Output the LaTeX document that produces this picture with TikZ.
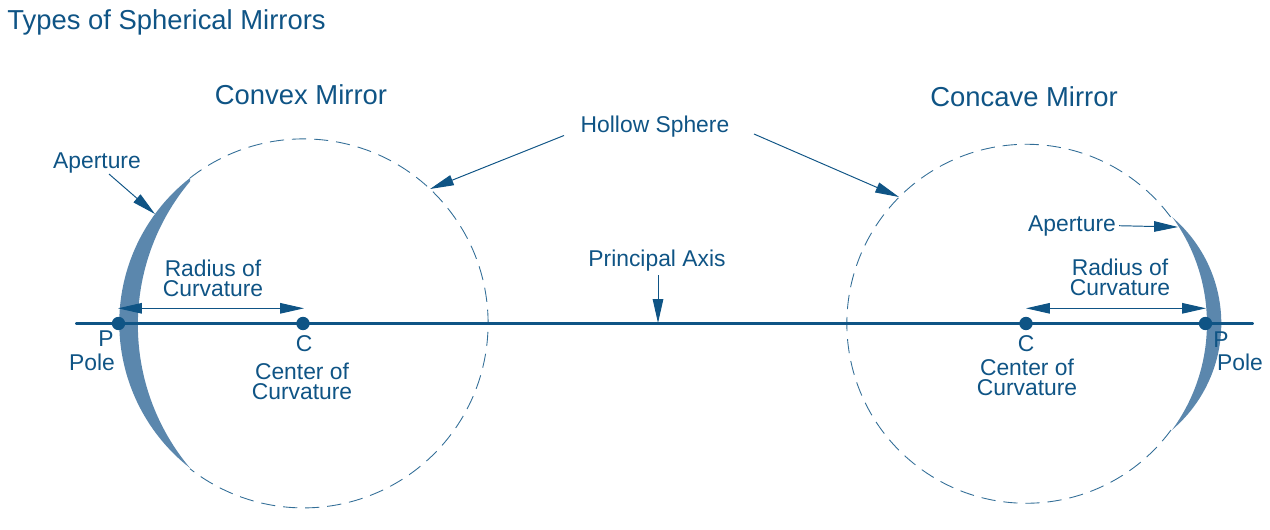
\documentclass[tikz,border=0pt]{standalone}
\usepackage{fontspec}
\setmainfont{Liberation Sans}
\usetikzlibrary{arrows.meta}
\definecolor{ink}{HTML}{0F5485}
\definecolor{mirror}{HTML}{5B87AD}
\tikzset{
  lbl/.style={text=ink,inner sep=0pt,align=center,font=\fontsize{13}{11.4}\selectfont},
  big/.style={text=ink,inner sep=0pt,font=\fontsize{15.6}{16}\selectfont},
  sphere/.style={draw=ink!85,line width=0.5pt,dash pattern=on 8.1pt off 4.5pt},
  pointer/.style={draw=ink,line width=0.55pt,-{Triangle[length=13.6pt,width=6pt,fill=ink]}},
  twoway/.style={draw=ink,line width=0.55pt,{Triangle[length=13.6pt,width=6pt,fill=ink]}-{Triangle[length=13.6pt,width=6pt,fill=ink]}},
  axisline/.style={draw=ink,line width=2.2pt,line cap=round},
  dot/.style={circle,fill=ink,inner sep=0pt,minimum size=7.6pt}
}
\begin{document}
\begin{tikzpicture}[x=0.02cm,y=-0.02cm]
\useasboundingbox (0,0) rectangle (1270,529);
% hollow spheres (open where the mirror lies)
\draw[sphere] (190,178) arc[start angle=232,end angle=488,radius=184.5];
\draw[sphere] (1171,430) arc[start angle=36.3,end angle=323.7,radius=179.5];
% mirrors
\fill[mirror] (190,178)
  arc[start angle=232,end angle=128,radius=184]
  arc[start angle=140,end angle=220,radius=222.9] -- cycle;
\fill[mirror] (1172,217)
  arc[start angle=-49.7,end angle=49.7,radius=139.6]
  arc[start angle=36.3,end angle=-36.3,radius=180] -- cycle;
% axis
\coordinate (axL) at (77,323.5);
\coordinate (axR) at (1252,323.5);
\draw[axisline] (axL) -- (axR);
\node[dot] (p1) at (118.5,323.5) {};
\node[dot] (c1) at (303,323.5) {};
\node[dot] (c2) at (1026,323.5) {};
\node[dot] (p2) at (1205.5,323.5) {};
% texts
\node[big,anchor=west] (title) at (7,22) {Types of Spherical Mirrors};
\node[big] (convex) at (301,95) {Convex Mirror};
\node[big] (concave) at (1024,97) {Concave Mirror};
\node[lbl] (hollow) at (655,127) {Hollow Sphere};
\node[lbl] (ap1) at (97,163) {Aperture};
\node[lbl] (ap2) at (1072,226.5) {Aperture};
\node[lbl] (rad1) at (213,278) {Radius of\\Curvature};
\node[lbl] (rad2) at (1120,277) {Radius of\\Curvature};
\node[lbl] (axis) at (657,261) {Principal Axis};
\node[lbl] (pl) at (106,338.5) {P};
\node[lbl] (pole1) at (92,362) {Pole};
\node[lbl] (cl) at (304,344) {C};
\node[lbl] (cc1) at (302,381) {Center of\\Curvature};
\node[lbl] (cr) at (1026,344) {C};
\node[lbl] (cc2) at (1027,377) {Center of\\Curvature};
\node[lbl] (pr) at (1221,340) {P};
\node[lbl] (pole2) at (1240,362) {Pole};
% leaders
\coordinate (h1s) at (564,135.5);
\coordinate (h1e) at (430,189);
\coordinate (h2s) at (754,134);
\coordinate (h2e) at (899,197);
\coordinate (a1s) at (109,174);
\coordinate (a1e) at (155,214);
\coordinate (a2s) at (1119,225.7);
\coordinate (a2e) at (1178,227);
\coordinate (xs) at (658,275);
\coordinate (xe) at (658,323);
\coordinate (r1a) at (118,308.3);
\coordinate (r1b) at (304,308.3);
\coordinate (r2a) at (1026,308.3);
\coordinate (r2b) at (1206,308.3);
\draw[pointer] (h1s) -- (h1e);
\draw[pointer] (h2s) -- (h2e);
\draw[pointer] (a1s) -- (a1e);
\draw[pointer] (a2s) -- (a2e);
\draw[pointer] (xs) -- (xe);
\draw[twoway] (r1a) -- (r1b);
\draw[twoway] (r2a) -- (r2b);
\end{tikzpicture}
\end{document}
